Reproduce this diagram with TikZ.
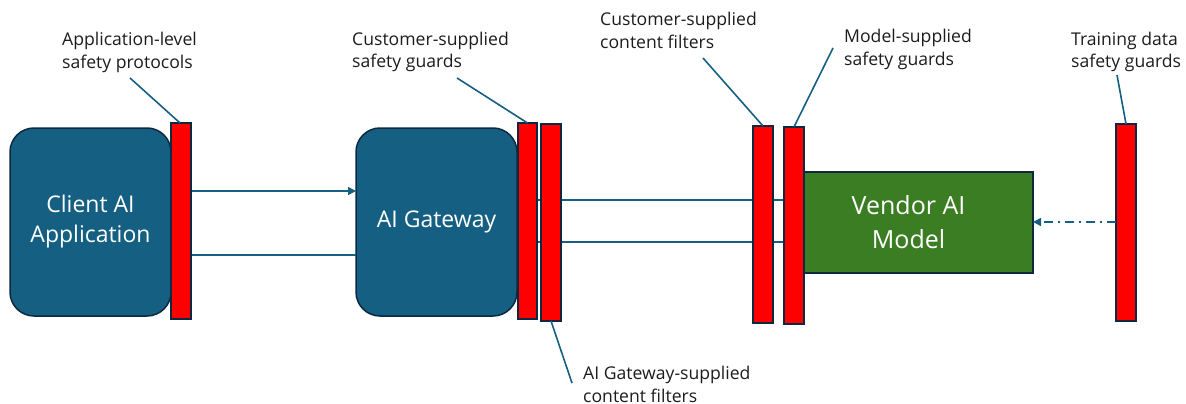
\documentclass[tikz,border=0pt]{standalone}
\usepackage{fontspec}
\setmainfont{Open Sans}
\usetikzlibrary{arrows.meta}
\definecolor{gwblue}{HTML}{156082}
\definecolor{navy}{HTML}{0E2841}
\definecolor{vendorgreen}{HTML}{3B7D23}
\definecolor{ink}{HTML}{1C1C1C}
\begin{document}
\begin{tikzpicture}[x=1pt,y=-1pt,
  stage/.style={draw=navy, line width=1.5pt, fill=gwblue, rounded corners=24pt,
    minimum width=161pt, minimum height=188pt, inner sep=0pt, outer sep=0pt,
    text=white, align=center, font=\fontsize{23}{30}\selectfont},
  model/.style={draw=navy, line width=1.5pt, fill=vendorgreen,
    minimum width=229pt, minimum height=101pt, inner sep=0pt, outer sep=0pt,
    text=white, align=center, font=\fontsize{25}{34}\selectfont},
  guard/.style={draw=navy, line width=1.5pt, fill=red,
    minimum width=20pt, minimum height=197pt, inner sep=0pt, outer sep=0pt},
  caption/.style={text=ink, align=left, anchor=base west, inner sep=0pt,
    font=\fontsize{17.6}{23}\selectfont},
  leader/.style={draw=gwblue, line width=1.6pt},
  flow/.style={draw=gwblue, line width=1.6pt},
  tip/.style={-{Triangle[length=8pt,width=8pt]}}
]
\useasboundingbox (0,0) rectangle (1186,404);

% main stages
\node[stage] (client) at (90.5,222) {Client AI\\Application};
\node[stage] (gw) at (436.5,222) {AI Gateway};
% the model's label sits a little left of the box centre
\node[model] (vendor) at (918.5,222.5) {Vendor AI\hspace*{20pt}\\Model\hspace*{20pt}};

% horizontal rows for the flows
\coordinate (r1) at (0,191);
\coordinate (r2) at (0,255);
\coordinate (r3) at (0,200);
\coordinate (r4) at (0,242);
\coordinate (r5) at (0,222);

% guard bar centres
\path (181,221) coordinate (p1) (527.5,221) coordinate (p2) (551,222.5) coordinate (p3)
      (763,224.5) coordinate (p4) (794,225.5) coordinate (p5) (1126,222.5) coordinate (p6);

% flows
\path[flow,tip] (client.east |- r1) -- (gw.west |- r1);
\path[flow] (client.east |- r2) -- (gw.west |- r2);
\path[flow,tip] (gw.east |- r3) -- ([xshift=-11pt]vendor.west |- r3);
\path[flow] ([xshift=-11pt]vendor.west |- r4) -- (gw.east |- r4);

% guard bars
\node[guard, minimum height=196pt] (b1) at (p1) {};
\node[guard, minimum height=196pt, minimum width=19pt] (b2) at (p2) {};
\node[guard] (b3) at (p3) {};
\node[guard] (b4) at (p4) {};
\node[guard] (b5) at (p5) {};
\node[guard] (b6) at (p6) {};

% training data feed
\path[flow, tip, dash pattern=on 9pt off 5pt on 2pt off 5pt] (b6.west |- r5) -- (vendor.east |- r5);

% captions (anchored on the baseline of their second line)
\node[caption] (c1) at (62,68.5) {Application-level\\safety protocols};
\node[caption] (c2) at (352,68) {Customer-supplied\\safety guards};
\node[caption] (c3) at (583,402) {AI Gateway-supplied\\content filters};
\node[caption] (c4) at (600,48.5) {Customer-supplied\\content filters};
\node[caption] (c5) at (844,65.5) {Model-supplied\\safety guards};
\node[caption] (c6) at (1071,68) {Training data\\safety guards};

% leader lines
\coordinate (l1) at (130,78);
\coordinate (l2) at (457,78);
\coordinate (l3) at (572,383);
\coordinate (l4) at (703,58);
\coordinate (l5) at (833,48);
\coordinate (l6) at (1117,75);
\path[leader] (l1) -- ([xshift=-1pt]b1.north);
\path[leader] (l2) -- (b2.north);
\path[leader] (b3.south) -- (l3);
\path[leader] (l4) -- (b4.north);
\path[leader] (l5) -- (b5.north);
\path[leader] (l6) -- (b6.north);
\end{tikzpicture}
\end{document}
